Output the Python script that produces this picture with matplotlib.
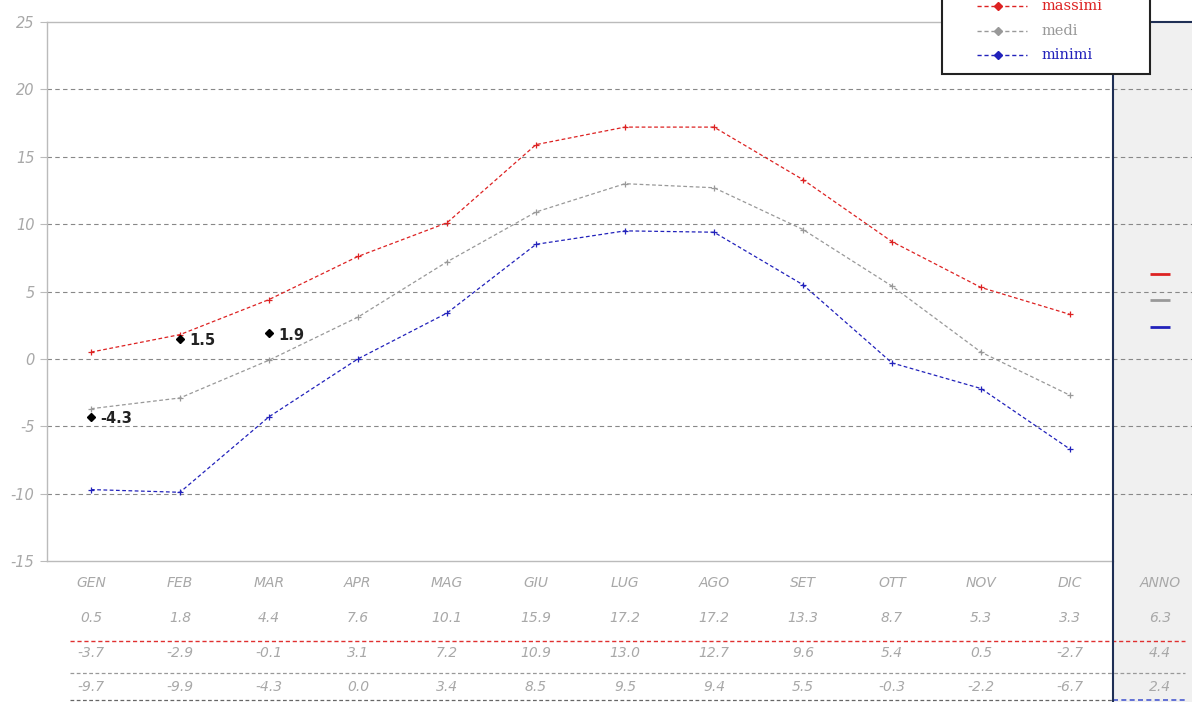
import matplotlib.pyplot as plt
from matplotlib.patches import Rectangle
from matplotlib.lines import Line2D

plt.rcParams["axes.unicode_minus"] = False

months = ["GEN", "FEB", "MAR", "APR", "MAG", "GIU", "LUG", "AGO", "SET", "OTT", "NOV", "DIC"]
massimi = [0.5, 1.8, 4.4, 7.6, 10.1, 15.9, 17.2, 17.2, 13.3, 8.7, 5.3, 3.3]
medi = [-3.7, -2.9, -0.1, 3.1, 7.2, 10.9, 13.0, 12.7, 9.6, 5.4, 0.5, -2.7]
minimi = [-9.7, -9.9, -4.3, 0.0, 3.4, 8.5, 9.5, 9.4, 5.5, -0.3, -2.2, -6.7]
anno = [6.3, 4.4, 2.4]  # massimi, medi, minimi
punti_x = [0, 1, 2]
punti_y = [-4.3, 1.5, 1.9]
punti_lbl = ["-4.3", "1.5", "1.9"]

c_max, c_med, c_min = "#dd2222", "#999999", "#2222bb"
c_txt = "#a8a8a8"

W, H = 1192, 702
fig = plt.figure(figsize=(W / 100, H / 100), dpi=100)
# axes in pixel coords: x 47..1192, y 22..561
ax = fig.add_axes([47 / W, (H - 561) / H, (W - 47) / W, (561 - 22) / H])
x0, xpanel, xr = -0.494, 11.483, 12.371
ax.set_xlim(x0, xr)
ax.set_ylim(-15, 25)
for s in ax.spines.values():
    s.set_visible(False)
ax.set_xticks([])
ax.set_yticks(range(-15, 26, 5))
ax.tick_params(axis="y", length=5, color="#bbbbbb", width=0.8, pad=4)
for t in ax.get_yticklabels():
    t.set_color(c_txt)
    t.set_fontstyle("italic")
    t.set_fontsize(10.5)

xt = ax.get_xaxis_transform()

# grey annual panel
ax.add_patch(Rectangle((xpanel, -0.28), xr - xpanel, 1.28, transform=xt,
                       facecolor="#f0f0f0", edgecolor="none", zorder=0, clip_on=False))

# gridlines
for yv in range(-10, 21, 5):
    ax.axhline(yv, color="#888888", lw=0.8, ls=(0, (4, 3)), zorder=1)
ax.plot([x0, xpanel], [25, 25], color="#bbbbbb", lw=1, zorder=2, clip_on=False)
ax.plot([x0, xpanel], [-15, -15], color="#bbbbbb", lw=1, zorder=2, clip_on=False)
ax.plot([xpanel, xr], [25, 25], color="#1f2f55", lw=1.5, zorder=3, clip_on=False)
ax.plot([x0, x0], [-15, 25], color="#bbbbbb", lw=1, zorder=2, clip_on=False)
ax.plot([xpanel, xpanel], [-0.28, 1.0], transform=xt, color="#1f2f55", lw=1.5,
        zorder=3, clip_on=False)

# series
x = list(range(12))
for vals, c in [(massimi, c_max), (medi, c_med), (minimi, c_min)]:
    ax.plot(x, vals, color=c, lw=0.9, ls=(0, (3, 2)), marker="+", ms=4, mew=0.9, zorder=4)

# annual short bars
for v, c in zip(anno, [c_max, c_med, c_min]):
    ax.plot([11.9, 12.12], [v, v], color=c, lw=2, zorder=4, solid_capstyle="butt")

# black highlighted points
ax.plot(punti_x, punti_y, ls="none", marker="D", ms=4.5, color="black", zorder=5)
for px, py, lbl in zip(punti_x, punti_y, punti_lbl):
    ax.text(px + 0.1, py - 0.15, lbl, fontsize=10.5, fontweight="bold", color="#222222",
            ha="left", va="center", zorder=6)

# table below
def ay(ypx):
    return (561 - ypx) / 539

rows = [(583, months + ["ANNO"]),
        (618, [f"{v:.1f}" for v in massimi + [anno[0]]]),
        (653, [f"{v:.1f}" for v in medi + [anno[1]]]),
        (687, [f"{v:.1f}" for v in minimi + [anno[2]]])]
for ypx, labels in rows:
    for i, lbl in enumerate(labels):
        xi = i if i < 12 else 12.01
        ax.text(xi, ay(ypx), lbl, transform=xt, ha="center", va="center",
                fontsize=10, fontstyle="italic", color=c_txt, clip_on=False)

xs_tab = (70 - 47) / 89 + x0
xe_tab = (1185 - 47) / 89 + x0
ax.plot([xs_tab, xe_tab], [ay(641)] * 2, transform=xt, color="#e03030", lw=1,
        ls=(0, (3, 2)), clip_on=False)
ax.plot([xs_tab, xe_tab], [ay(673)] * 2, transform=xt, color="#999999", lw=0.9,
        ls=(0, (3, 2)), clip_on=False)
ax.plot([xs_tab, xpanel], [ay(700)] * 2, transform=xt, color="#666666", lw=0.9,
        ls=(0, (3, 2)), clip_on=False)
ax.plot([xpanel, xe_tab], [ay(700)] * 2, transform=xt, color="#4a5ad0", lw=1.2,
        ls=(0, (3, 2)), clip_on=False)

# legend box (cut at the top)
def fx(px):
    return px / W

def fy(py):
    return (H - py) / H

fig.patches.append(Rectangle((fx(942), fy(74)), fx(1150) - fx(942), fy(-10) - fy(74),
                             transform=fig.transFigure, facecolor="white",
                             edgecolor="#222222", lw=1.5, zorder=10))
for ypx, c, name in [(6, c_max, "massimi"), (31, c_med, "medi"), (55, c_min, "minimi")]:
    fig.lines.append(Line2D([fx(977), fx(1027)], [fy(ypx)] * 2, transform=fig.transFigure,
                            color=c, lw=1, ls=(0, (3, 2)), zorder=11))
    fig.lines.append(Line2D([fx(998)], [fy(ypx)], transform=fig.transFigure, color=c,
                            marker="D", ms=4, ls="none", zorder=11))
    fig.text(fx(1042), fy(ypx), name, color=c, fontsize=10.5, family="DejaVu Serif",
             ha="left", va="center", zorder=12)

fig.savefig("out.png", dpi=100)
